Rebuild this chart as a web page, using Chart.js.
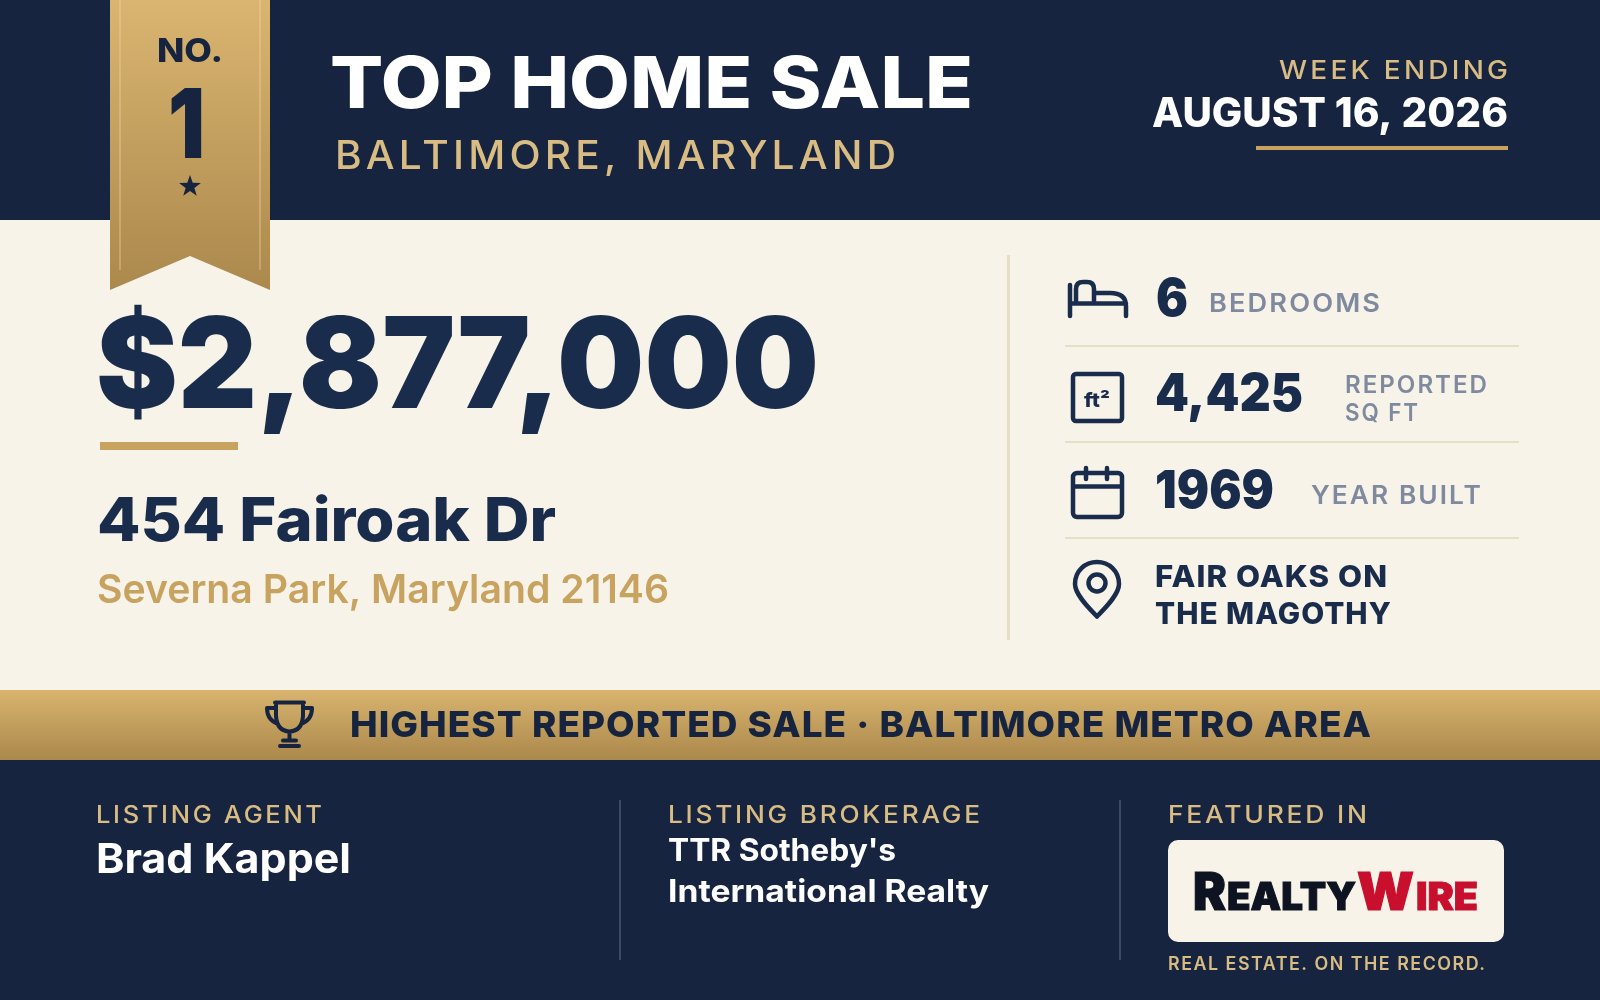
<!DOCTYPE html>
<html>
<head>
<meta charset="utf-8">
<title>Top Home Sale</title>
<script src="https://cdn.jsdelivr.net/npm/chart.js@4"></script>
<style>
  html, body { margin: 0; padding: 0; background: #16243f; overflow: hidden; }
  canvas { display: block; }
</style>
</head>
<body>
<canvas id="card" width="1600" height="1000"></canvas>
<script>
// Card content
const rank = ['NO.', '1'];
const headline = ['TOP HOME SALE', 'BALTIMORE, MARYLAND'];
const weekEnding = ['WEEK ENDING', 'AUGUST 16, 2026'];
const price = '$2,877,000';
const address = ['454 Fairoak Dr', 'Severna Park, Maryland 21146'];
const statValues = ['6', '4,425', '1969'];
const statLabels = [['BEDROOMS'], ['REPORTED', 'SQ FT'], ['YEAR BUILT']];
const neighborhood = ['FAIR OAKS ON', 'THE MAGOTHY'];
const banner = 'HIGHEST REPORTED SALE · BALTIMORE METRO AREA';
const footerHeads = ['LISTING AGENT', 'LISTING BROKERAGE', 'FEATURED IN'];
const agent = 'Brad Kappel';
const brokerage = ["TTR Sotheby's", 'International Realty'];
const logoParts = ['R', 'EALTY', 'W', 'IRE'];
const tagline = 'REAL ESTATE. ON THE RECORD.';

const NAVY = '#16243f', INK = '#1a2c4c', CREAM = '#f7f3e8', GOLD = '#c8a25f', PALE = '#d9bc84', GREY = '#7f8a9f', RULE = '#e6dec6';
const FONT = 'Inter, "Noto Sans", sans-serif';

function label(ctx, str, x, base, size, weight, color, width, spacing = 0, bolder = 0) {
  ctx.save();
  ctx.font = `${weight} ${size}px ${FONT}`;
  ctx.letterSpacing = spacing + 'px';
  ctx.fillStyle = color;
  ctx.textBaseline = 'alphabetic';
  ctx.textAlign = 'left';
  const w = ctx.measureText(str).width - spacing;
  ctx.translate(x, base);
  ctx.scale(width ? width / w : 1, 1);
  ctx.fillText(str, 0, 0);
  if (bolder) {
    // no heavier face than 900, so thicken with a thin outline
    ctx.strokeStyle = color;
    ctx.lineWidth = bolder;
    ctx.lineJoin = 'miter';
    ctx.strokeText(str, 0, 0);
  }
  ctx.restore();
}

function goldGradient(ctx, top, bottom, c1, c2) {
  const g = ctx.createLinearGradient(0, top, 0, bottom);
  g.addColorStop(0, c1);
  g.addColorStop(1, c2);
  return g;
}

function line(ctx, x1, y1, x2, y2, color, w) {
  ctx.strokeStyle = color;
  ctx.lineWidth = w;
  ctx.beginPath();
  ctx.moveTo(x1, y1);
  ctx.lineTo(x2, y2);
  ctx.stroke();
}

function drawPanels(ctx) {
  ctx.fillStyle = NAVY;
  ctx.fillRect(0, 0, 1600, 1000);
  ctx.fillStyle = CREAM;
  ctx.fillRect(0, 220, 1600, 470);
  ctx.fillStyle = goldGradient(ctx, 690, 760, '#d9b46f', '#ab884c');
  ctx.fillRect(0, 690, 1600, 70);

  // ribbon
  ctx.fillStyle = goldGradient(ctx, 0, 290, '#dab571', '#ab884c');
  ctx.beginPath();
  ctx.moveTo(110, 0); ctx.lineTo(270, 0); ctx.lineTo(270, 290);
  ctx.lineTo(190, 256); ctx.lineTo(110, 290); ctx.closePath();
  ctx.fill();
  line(ctx, 120, 0, 120, 270, 'rgba(240,215,160,0.35)', 2);
  line(ctx, 260, 0, 260, 270, 'rgba(240,215,160,0.35)', 2);

  // star
  ctx.fillStyle = NAVY;
  ctx.beginPath();
  for (let i = 0; i < 10; i++) {
    const r = i % 2 ? 4.6 : 11.5, a = -Math.PI / 2 + i * Math.PI / 5;
    ctx[i ? 'lineTo' : 'moveTo'](190 + r * Math.cos(a), 186.5 + r * Math.sin(a));
  }
  ctx.closePath();
  ctx.fill();

  // rules
  ctx.fillStyle = GOLD;
  ctx.fillRect(1256, 146, 252, 4);
  ctx.fillRect(100, 442, 138, 8);
  ctx.fillStyle = RULE;
  ctx.fillRect(1007, 255, 3, 385);
  [345, 441, 537].forEach(y => ctx.fillRect(1065, y, 454, 2));
  ctx.fillStyle = '#3c4963';
  ctx.fillRect(619, 800, 2, 160);
  ctx.fillRect(1119, 800, 2, 160);

  // logo box
  ctx.fillStyle = CREAM;
  ctx.beginPath();
  ctx.roundRect(1168, 840, 336, 102, 10);
  ctx.fill();
}

function drawIcons(ctx) {
  ctx.strokeStyle = INK;
  ctx.lineWidth = 4.5;
  ctx.lineCap = 'round';
  ctx.lineJoin = 'round';

  // bed
  ctx.beginPath();
  ctx.moveTo(1070, 285); ctx.lineTo(1070, 316);
  ctx.moveTo(1070, 303.5); ctx.lineTo(1126, 303.5);
  ctx.moveTo(1126, 316); ctx.lineTo(1126, 306);
  ctx.quadraticCurveTo(1126, 293, 1110, 293);
  ctx.lineTo(1094, 293);
  ctx.moveTo(1076, 303); ctx.lineTo(1076, 289);
  ctx.quadraticCurveTo(1076, 282, 1083, 282);
  ctx.lineTo(1087, 282);
  ctx.quadraticCurveTo(1094, 282, 1094, 289);
  ctx.lineTo(1094, 303);
  ctx.stroke();

  // square feet box
  ctx.beginPath();
  ctx.roundRect(1073, 374, 49, 47, 3);
  ctx.stroke();

  // calendar
  ctx.beginPath();
  ctx.roundRect(1073, 473, 49, 44, 4);
  ctx.moveTo(1073, 486.5); ctx.lineTo(1122, 486.5);
  ctx.moveTo(1086, 468); ctx.lineTo(1086, 479);
  ctx.moveTo(1107, 468); ctx.lineTo(1107, 479);
  ctx.stroke();

  // pin
  ctx.beginPath();
  ctx.moveTo(1097, 616.5);
  ctx.bezierCurveTo(1090, 609, 1075, 595, 1075, 584);
  ctx.bezierCurveTo(1075, 571, 1085, 562, 1097, 562);
  ctx.bezierCurveTo(1109, 562, 1119, 571, 1119, 584);
  ctx.bezierCurveTo(1119, 595, 1104, 609, 1097, 616.5);
  ctx.closePath();
  ctx.moveTo(1105.5, 583);
  ctx.arc(1097, 583, 8.5, 0, Math.PI * 2);
  ctx.stroke();

  // trophy
  ctx.strokeStyle = NAVY;
  ctx.lineWidth = 4;
  ctx.beginPath();
  ctx.moveTo(275, 702.5); ctx.lineTo(304, 702.5);
  ctx.moveTo(276, 703); ctx.lineTo(276, 716);
  ctx.quadraticCurveTo(277, 731, 289.5, 731.5);
  ctx.quadraticCurveTo(302, 731, 303, 716);
  ctx.lineTo(303, 703);
  ctx.moveTo(275, 708); ctx.lineTo(267, 708);
  ctx.quadraticCurveTo(267, 720, 278, 724);
  ctx.moveTo(304, 708); ctx.lineTo(312, 708);
  ctx.quadraticCurveTo(312, 720, 301, 724);
  ctx.moveTo(289.5, 732); ctx.lineTo(289.5, 740);
  ctx.moveTo(283, 740.5); ctx.lineTo(296, 740.5);
  ctx.moveTo(280, 746); ctx.lineTo(299, 746);
  ctx.stroke();
}

function drawText(ctx) {
  label(ctx, rank[0], 157, 62, 33, 800, NAVY, 66);
  label(ctx, rank[1], 168, 158, 96, 900, NAVY, 37);

  label(ctx, headline[0], 330, 108, 71, 800, '#ffffff', 643);
  label(ctx, headline[1], 335, 169, 39, 500, PALE, 561, 4);
  label(ctx, weekEnding[0], 1279, 79, 26, 500, PALE, 229, 3);
  label(ctx, weekEnding[1], 1152, 127, 41, 800, '#ffffff', 356);

  label(ctx, price, 96, 408, 126, 900, INK, 723);
  label(ctx, address[0], 97, 541, 60, 800, INK, 459);
  label(ctx, address[1], 97, 603, 40, 600, GOLD, 572);

  label(ctx, statValues[0], 1156, 316, 52, 900, INK, 32);
  label(ctx, statLabels[0][0], 1209, 312, 26, 600, GREY, 171, 2);
  label(ctx, 'ft²', 1084, 407, 20, 800, INK, 26);
  label(ctx, statValues[1], 1155, 411, 52, 900, INK, 148);
  label(ctx, statLabels[1][0], 1345, 393, 24, 600, GREY, 142, 2);
  label(ctx, statLabels[1][1], 1345, 421, 24, 600, GREY, 73, 2);
  label(ctx, statValues[2], 1155, 508, 52, 900, INK, 119);
  label(ctx, statLabels[2][0], 1311, 504, 26, 600, GREY, 170, 2);
  label(ctx, neighborhood[0], 1155, 587, 30, 800, INK, 232, 1);
  label(ctx, neighborhood[1], 1155, 623.5, 30, 800, INK, 236, 1);

  label(ctx, banner, 350, 737, 36, 800, NAVY, 1021, 1);

  label(ctx, footerHeads[0], 96, 822.5, 24, 500, PALE, 226, 2.5);
  label(ctx, footerHeads[1], 668, 822.5, 24, 500, PALE, 312, 2.5);
  label(ctx, footerHeads[2], 1168, 822.5, 24, 500, PALE, 199, 2.5);
  label(ctx, agent, 96, 873, 41, 700, '#ffffff', 255);
  label(ctx, brokerage[0], 668, 860.5, 31, 700, '#ffffff', 228);
  label(ctx, brokerage[1], 668, 901.5, 31, 700, '#ffffff', 321);

  label(ctx, logoParts[0], 1193, 910, 52, 900, '#0d1320', 33, 0, 1.2);
  label(ctx, logoParts[1], 1227, 910, 38, 900, '#0d1320', 129, 0, 1);
  label(ctx, logoParts[2], 1357, 910, 52, 900, '#c8102e', 57, 0, 1.2);
  label(ctx, logoParts[3], 1416, 910, 38, 900, '#c8102e', 62, 0, 1);
  label(ctx, tagline, 1168, 970, 18, 600, PALE, 317, 1.5);
}

const cardPlugin = {
  id: 'card',
  beforeDraw(chart) {
    const ctx = chart.ctx;
    ctx.save();
    drawPanels(ctx);
    drawIcons(ctx);
    drawText(ctx);
    ctx.restore();
  }
};

new Chart(document.getElementById('card'), {
  type: 'scatter',
  data: { datasets: [] },
  options: {
    responsive: false,
    animation: false,
    layout: { padding: 0 },
    events: [],
    plugins: { legend: { display: false }, tooltip: { enabled: false } },
    scales: {
      x: { display: false, min: 0, max: 1600 },
      y: { display: false, min: 0, max: 1000 }
    }
  },
  plugins: [cardPlugin]
});
</script>
</body>
</html>
